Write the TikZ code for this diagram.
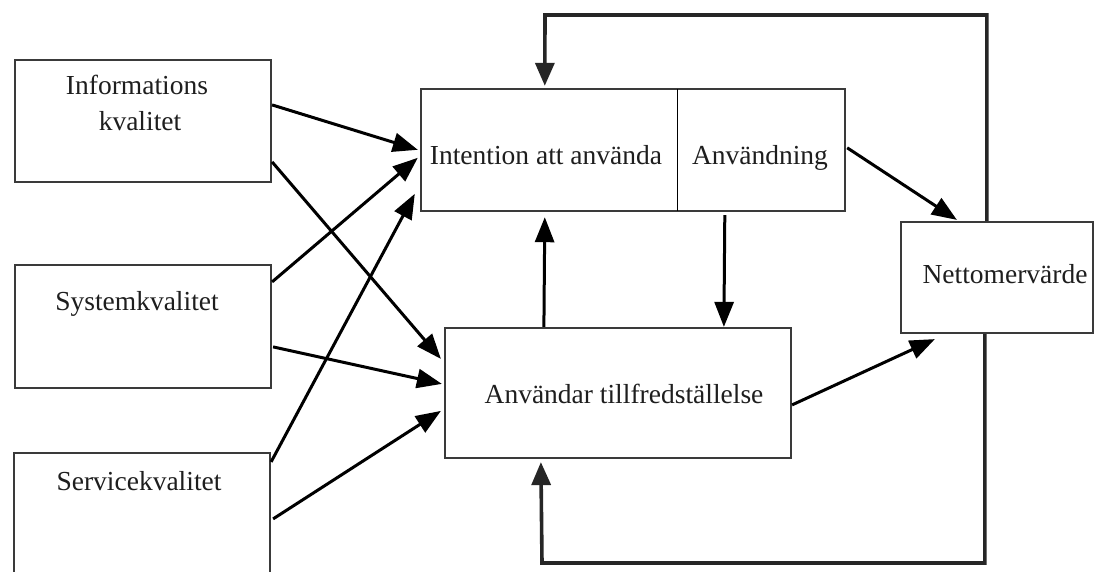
\documentclass[tikz,border=0pt]{standalone}
\usepackage{fontspec}
\setmainfont{Liberation Serif}
\usetikzlibrary{arrows.meta,calc}
\definecolor{edgegray}{HTML}{3A3A3A}
\definecolor{textgray}{HTML}{1E1E1E}
\begin{document}
\begin{tikzpicture}[x=1pt,y=-1pt,
  box/.style={draw=edgegray,line width=2.2pt,rectangle,inner sep=0pt,fill=white},
  cell/.style={rectangle,inner sep=0pt},
  outline/.style={draw=edgegray,line width=2.2pt},
  txt/.style={anchor=base,inner sep=0pt,text=textgray,font=\fontsize{27.5}{33}\selectfont},
  flow/.style={draw=black,line width=3pt,-{Triangle[length=25pt,width=19pt]}},
  loop/.style={draw=black!85,line width=3.6pt,line join=miter,-{Triangle[length=23pt,width=19pt]}}]
\clip (0,0) rectangle (1101,571);
\fill[white] (0,0) rectangle (1101,571);

% source boxes
\node[box,minimum width=256pt,minimum height=122pt] (info) at (143,121) {};
\node[box,minimum width=256pt,minimum height=123pt] (sys) at (143,326.5) {};
\node[box,minimum width=256pt,minimum height=150pt] (serv) at (142,528) {};

% intention / usage pair: one frame with a thin divider
\node[cell,minimum width=256pt,minimum height=122pt] (intent) at (549,150) {};
\node[cell,minimum width=168pt,minimum height=122pt] (use) at (761,150) {};
\draw[outline] (intent.north west) rectangle (use.south east);
\draw[black,line width=1.3pt] (intent.north east) -- (intent.south east);

% satisfaction and net benefits
\node[box,minimum width=346pt,minimum height=130pt] (sat) at (618,393) {};
\node[box,minimum width=192pt,minimum height=111pt] (net) at (997,277.5) {};

% labels
\node[txt] (infoA) at ($(info.north)+(-6,36)$) {Informations};
\node[txt] (infoB) at ($(info.north)+(-3,72)$) {kvalitet};
\node[txt] (sysT) at ($(sys.north)+(-6,47)$) {Systemkvalitet};
\node[txt] (servT) at ($(serv.north)+(-3,39)$) {Servicekvalitet};
\node[txt] (intentT) at ($(intent.north)+(-3,76)$) {Intention att använda};
\node[txt] (useT) at ($(use.north)+(-1,76)$) {Användning};
\node[txt] (satT) at ($(sat.north)+(6,77)$) {Användar tillfredställelse};
\node[txt] (netT) at ($(net.north)+(8,63)$) {Nettomervärde};

% dimension arrows
\draw[flow] ($(info.north east)+(0,46)$) -- ($(intent.north west)+(-3,61)$);
\draw[flow] ($(info.north east)+(0,103)$) -- ($(sat.north west)+(-3,32)$);
\draw[flow] ($(sys.north east)+(0,18)$) -- ($(intent.north west)+(-3,69)$);
\draw[flow] ($(sys.north east)+(1,83)$) -- ($(sat.north west)+(-2,57)$);
\draw[flow] ($(serv.north east)+(0,10)$) -- ($(intent.north west)+(-6,105)$);
\draw[flow] ($(serv.north east)+(2,67)$) -- ($(sat.north west)+(-3,84)$);

% between the central boxes
\draw[flow] ($(sat.north west)+(100,0)$) -- ($(intent.south west)+(124,6)$);
\draw[flow] ($(use.south west)+(48,4)$) -- ($(sat.north west)+(280,0)$);
\draw[flow] ($(use.north east)+(2,59)$) -- ($(net.north west)+(57,-1)$);
\draw[flow] ($(sat.north east)+(0,78)$) -- ($(net.south west)+(35,5)$);

% feedback loops
\coordinate (topturn) at (545,15);
\coordinate (botturn) at (542,563);
\draw[loop] ($(net.north west)+(87,0)$) |- (topturn) -- ($(intent.north west)+(124,-3)$);
\draw[loop] ($(net.south west)+(85,0)$) |- (botturn) -- ($(sat.south west)+(97,3)$);
\end{tikzpicture}
\end{document}
